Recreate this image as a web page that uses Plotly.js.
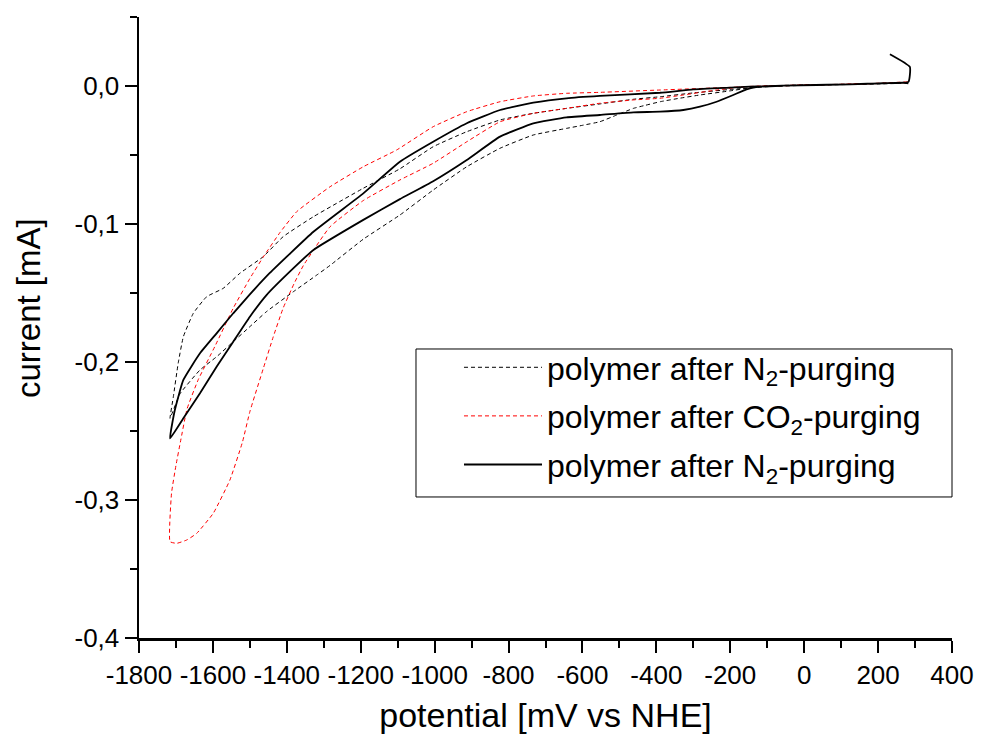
<!DOCTYPE html>
<html>
<head>
<meta charset="utf-8">
<script src="https://cdn.plot.ly/plotly-3.0.1.min.js"></script>
<style>
  html, body { margin: 0; padding: 0; background: #ffffff; }
  #chart { width: 982px; height: 737px; }
</style>
</head>
<body>
<div id="chart"></div>
<script>
// ---- data (potential in mV vs NHE, current in mA) ----
const seriesNames = [
  'polymer after N<sub>2</sub>-purging',
  'polymer after CO<sub>2</sub>-purging',
  'polymer after N<sub>2</sub>-purging'
];

// first scan after N2 purging (dashed black)
const n2FirstPotential = [280, 200, 100, 0, -100, -150, -200, -282, -340, -390, -430, -462, -507, -553, -600, -643, -733, -823, -913, -1004, -1094, -1193, -1283, -1319, -1382, -1455, -1500, -1545, -1590, -1635, -1689, -1716,
  -1707, -1694, -1680, -1653, -1617, -1572, -1527, -1464, -1410, -1328, -1193, -1094, -1004, -913, -823, -733, -643, -553, -462, -390, -300, -200, -100, 0, 100, 200, 280];
const n2FirstCurrent = [0.0025, 0.0018, 0.0012, 0.0008, 0.0, -0.0015, -0.0035, -0.0065, -0.0090, -0.0114, -0.0140, -0.0162, -0.0210, -0.0259, -0.0285, -0.0307, -0.0355, -0.0451, -0.0585, -0.0754, -0.0935, -0.1110, -0.1300, -0.1370, -0.1490, -0.1635, -0.1744, -0.1853, -0.1962, -0.2058, -0.2230, -0.2408,
  -0.2251, -0.2010, -0.1817, -0.1647, -0.1527, -0.1466, -0.1357, -0.1237, -0.1092, -0.0947, -0.0741, -0.0600, -0.0440, -0.0331, -0.0246, -0.0198, -0.0162, -0.0130, -0.0096, -0.0078, -0.0050, -0.0025, -0.0005, 0.0005, 0.0010, 0.0015, 0.0020];

// scan after CO2 purging (dashed red)
const co2Potential = [280, 200, 100, 0, -100, -165, -237, -327, -390, -462, -553, -643, -733, -823, -913, -1004, -1094, -1193, -1283, -1355, -1380, -1410, -1437, -1464, -1500, -1520, -1554, -1599, -1644, -1671, -1698, -1716,
  -1712, -1700, -1688, -1670, -1640, -1595, -1545, -1500, -1464, -1418, -1373, -1283, -1193, -1103, -1004, -913, -823, -733, -643, -553, -390, -200, -100, 0, 100, 200, 280];
const co2Current = [0.0030, 0.0020, 0.0012, 0.0005, 0.0, -0.0005, -0.0029, -0.0065, -0.0089, -0.0101, -0.0125, -0.0162, -0.0198, -0.0259, -0.0404, -0.0560, -0.0681, -0.0830, -0.1020, -0.1300, -0.1430, -0.1610, -0.1820, -0.2050, -0.2360, -0.2580, -0.2855, -0.3096, -0.3242, -0.3290, -0.3314, -0.3302,
  -0.2951, -0.2750, -0.2580, -0.2340, -0.2130, -0.1889, -0.1610, -0.1395, -0.1240, -0.1060, -0.0910, -0.0730, -0.0585, -0.0464, -0.0295, -0.0186, -0.0114, -0.0072, -0.0053, -0.0046, -0.0029, -0.0010, 0.0, 0.0008, 0.0012, 0.0018, 0.0025];

// second scan after N2 purging (solid black)
const n2SecondPotential = [232, 286, 282, 214, 124, 0, -56, -120, -156, -192, -237, -282, -327, -390, -462, -553, -643, -733, -823, -913, -1004, -1094, -1193, -1328, -1382, -1455, -1500, -1545, -1590, -1635, -1680, -1716,
  -1703, -1680, -1635, -1590, -1545, -1500, -1446, -1328, -1193, -1094, -1004, -913, -823, -733, -643, -553, -390, -300, -200, -147, -56, 124, 268, 282];
const n2SecondCurrent = [0.0230, 0.0138, 0.0030, 0.0020, 0.0012, 0.0006, 0.0002, -0.0005, -0.0024, -0.0065, -0.0114, -0.0150, -0.0174, -0.0186, -0.0191, -0.0210, -0.0227, -0.0270, -0.0367, -0.0536, -0.0690, -0.0820, -0.0970, -0.1188, -0.1320, -0.1515, -0.1672, -0.1853, -0.2034, -0.2227, -0.2408, -0.2553,
  -0.2348, -0.2130, -0.1937, -0.1792, -0.1647, -0.1510, -0.1355, -0.1056, -0.0778, -0.0549, -0.0404, -0.0270, -0.0174, -0.0121, -0.0089, -0.0072, -0.0049, -0.0025, -0.0012, -0.0005, 0.0002, 0.0012, 0.0025, 0.0020];

// tick labels
const xTickValues = [-1800, -1600, -1400, -1200, -1000, -800, -600, -400, -200, 0, 200, 400];
const xTickLabels = ['-1800', '-1600', '-1400', '-1200', '-1000', '-800', '-600', '-400', '-200', '0', '200', '400'];
const yTickValues = [0.0, -0.1, -0.2, -0.3, -0.4];
const yTickLabels = ['0,0', '-0,1', '-0,2', '-0,3', '-0,4'];
const xTitle = 'potential [mV vs NHE]';
const yTitle = 'current [mA]';

const FONT = '"Liberation Sans", Arial, sans-serif';

const traces = [
  {
    x: n2FirstPotential, y: n2FirstCurrent, name: seriesNames[0], legendgroup: 'g1',
    type: 'scatter', mode: 'lines',
    line: { color: '#000000', width: 1, dash: '4px,3px', shape: 'spline', smoothing: 0.4 }
  },
  {
    x: co2Potential, y: co2Current, name: seriesNames[1], legendgroup: 'g2',
    type: 'scatter', mode: 'lines',
    line: { color: '#ff0000', width: 1, dash: '4px,3px', shape: 'spline', smoothing: 0.4 }
  },
  {
    x: n2SecondPotential, y: n2SecondCurrent, name: seriesNames[2], legendgroup: 'g3',
    type: 'scatter', mode: 'lines',
    line: { color: '#000000', width: 1.8, shape: 'spline', smoothing: 0.4 }
  }
];

const layout = {
  width: 982,
  height: 737,
  margin: { l: 139, r: 30, t: 17, b: 99 },
  paper_bgcolor: '#ffffff',
  plot_bgcolor: '#ffffff',
  font: { family: FONT, color: '#000000', size: 26 },
  showlegend: true,
  legend: {
    x: 0.3936, y: 0.4799, xanchor: 'left', yanchor: 'top',
    borderwidth: 0, bgcolor: 'rgba(0,0,0,0)',
    font: { family: FONT, size: 32, color: '#000000' },
    itemwidth: 78,
    tracegroupgap: 4
  },
  shapes: [
    {
      type: 'rect', xref: 'paper', yref: 'paper',
      x0: 0.3407, x1: 1.0, y0: 0.2271, y1: 0.4654,
      line: { color: '#000000', width: 1 }, fillcolor: 'rgba(0,0,0,0)', layer: 'below'
    }
  ],
  annotations: [
    {
      text: yTitle, xref: 'paper', yref: 'paper', x: 0, y: 0.5314,
      xanchor: 'center', yanchor: 'middle', xshift: -111, textangle: -90,
      showarrow: false, font: { family: FONT, size: 33, color: '#000000' }
    }
  ],
  xaxis: {
    range: [-1800, 400],
    tickmode: 'array', tickvals: xTickValues, ticktext: xTickLabels,
    ticks: 'outside', ticklen: 12, tickwidth: 2, tickcolor: '#000000',
    minor: { tickmode: 'linear', tick0: -1800, dtick: 100, ticks: 'outside', ticklen: 7, tickwidth: 2, tickcolor: '#000000' },
    showline: true, linecolor: '#000000', linewidth: 2.5,
    showgrid: false, zeroline: false,
    tickfont: { family: FONT, size: 26 },
    title: { text: xTitle, font: { family: FONT, size: 34 }, standoff: 15 }
  },
  yaxis: {
    range: [-0.4, 0.05],
    tickmode: 'array', tickvals: yTickValues, ticktext: yTickLabels,
    ticks: 'outside', ticklen: 12, tickwidth: 2, tickcolor: '#000000',
    minor: { tickmode: 'linear', tick0: -0.4, dtick: 0.05, ticks: 'outside', ticklen: 7, tickwidth: 2, tickcolor: '#000000' },
    showline: true, linecolor: '#000000', linewidth: 2.5,
    showgrid: false, zeroline: false,
    tickfont: { family: FONT, size: 26 }
  }
};

Plotly.newPlot('chart', traces, layout, { displayModeBar: false, staticPlot: true });
</script>
</body>
</html>
